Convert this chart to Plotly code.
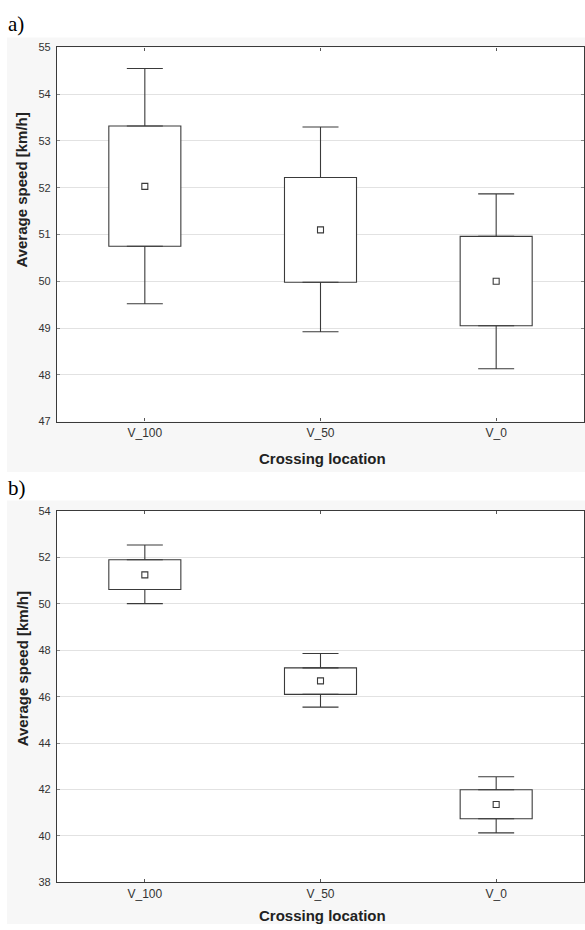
import plotly.graph_objects as go

# ---------------- data ----------------
categories = ["V_100", "V_50", "V_0"]

# panel a
a_mean = [52.03, 51.10, 50.00]
a_box_low = [50.75, 49.98, 49.05]
a_box_high = [53.32, 52.22, 50.96]
a_whisker_low = [49.52, 48.92, 48.13]
a_whisker_high = [54.55, 53.30, 51.87]
a_yticks = [47, 48, 49, 50, 51, 52, 53, 54, 55]

# panel b
b_mean = [51.25, 46.68, 41.35]
b_box_low = [50.62, 46.10, 40.74]
b_box_high = [51.90, 47.24, 41.99]
b_whisker_low = [50.01, 45.55, 40.13]
b_whisker_high = [52.54, 47.86, 42.55]
b_yticks = [38, 40, 42, 44, 46, 48, 50, 52, 54]

W, H = 585, 930
LINE = "#3a3a3a"
FONT = "Liberation Sans"


def px_y(y):
    return 1 - y / H


def px_x(x):
    return x / W


fig = go.Figure()

panels = [
    ("x", "y", a_mean, a_box_low, a_box_high, a_whisker_low, a_whisker_high),
    ("x2", "y2", b_mean, b_box_low, b_box_high, b_whisker_low, b_whisker_high),
]
for xa, ya, mean, lo, hi, wlo, whi in panels:
    # box (mean +/- SE)
    fig.add_trace(go.Bar(
        x=categories, y=[h - l for h, l in zip(hi, lo)], base=lo, width=0.41,
        marker=dict(color="white", line=dict(color=LINE, width=1.1)),
        showlegend=False, xaxis=xa, yaxis=ya, hoverinfo="skip",
    ))
    # upper whisker (from box top)
    fig.add_trace(go.Scatter(
        x=categories, y=hi, mode="markers", marker=dict(size=0.1, opacity=0),
        error_y=dict(type="data", symmetric=False,
                     array=[w - h for w, h in zip(whi, hi)],
                     arrayminus=[0] * len(hi),
                     color=LINE, thickness=1.1, width=18),
        showlegend=False, xaxis=xa, yaxis=ya, hoverinfo="skip",
    ))
    # lower whisker (from box bottom)
    fig.add_trace(go.Scatter(
        x=categories, y=lo, mode="markers", marker=dict(size=0.1, opacity=0),
        error_y=dict(type="data", symmetric=False,
                     array=[0] * len(lo),
                     arrayminus=[l - w for l, w in zip(lo, wlo)],
                     color=LINE, thickness=1.1, width=18),
        showlegend=False, xaxis=xa, yaxis=ya, hoverinfo="skip",
    ))
    # mean marker
    fig.add_trace(go.Scatter(
        x=categories, y=mean, mode="markers",
        marker=dict(symbol="square-open", size=6, color=LINE, line=dict(width=1.1, color=LINE)),
        showlegend=False, xaxis=xa, yaxis=ya, hoverinfo="skip",
    ))

x_dom = [px_x(57), px_x(584)]
a_dom = [px_y(421), px_y(42)]
b_dom = [px_y(887.7), px_y(511.7)]

common_x = dict(
    type="category", categoryorder="array", categoryarray=categories,
    range=[-0.5, 2.5], showline=True, linecolor=LINE, linewidth=1.2, mirror="ticks",
    ticks="inside", ticklen=3, tickcolor="#555", showgrid=False, zeroline=False,
    tickfont=dict(family=FONT, size=12, color="#333"), domain=x_dom,
)
common_y = dict(
    showline=True, linecolor=LINE, linewidth=1.2, mirror="ticks",
    ticks="inside", ticklen=3, tickcolor="#888", showgrid=True,
    gridcolor="#e2e2e2", gridwidth=1, zeroline=False,
    tickfont=dict(family=FONT, size=11, color="#333"), ticklabelstandoff=3,
)

fig.update_layout(
    width=W, height=H, margin=dict(l=0, r=0, t=0, b=0),
    paper_bgcolor="white", plot_bgcolor="white", barmode="overlay",
    xaxis=dict(**common_x, anchor="y"),
    yaxis=dict(**common_y, domain=a_dom, range=[47, 55], tickvals=a_yticks, anchor="x"),
    xaxis2=dict(**common_x, anchor="y2"),
    yaxis2=dict(**common_y, domain=b_dom, range=[38, 54], tickvals=b_yticks, anchor="x2"),
    shapes=[
        dict(type="rect", xref="paper", yref="paper", x0=px_x(7), x1=1,
             y0=px_y(472), y1=px_y(32), fillcolor="#f7f7f7", line=dict(width=0), layer="below"),
        dict(type="rect", xref="paper", yref="paper", x0=px_x(7), x1=1,
             y0=0, y1=px_y(501), fillcolor="#f7f7f7", line=dict(width=0), layer="below"),
        dict(type="rect", xref="paper", yref="paper", x0=x_dom[0], x1=x_dom[1],
             y0=a_dom[0], y1=a_dom[1], fillcolor="white", line=dict(width=0), layer="below"),
        dict(type="rect", xref="paper", yref="paper", x0=x_dom[0], x1=x_dom[1],
             y0=b_dom[0], y1=b_dom[1], fillcolor="white", line=dict(width=0), layer="below"),
    ],
)

ann = []
ann.append(dict(text="a)", x=px_x(6), y=px_y(18), xanchor="left", yanchor="middle",
                font=dict(family="Liberation Serif", size=21, color="black")))
ann.append(dict(text="b)", x=px_x(6), y=px_y(488), xanchor="left", yanchor="middle",
                font=dict(family="Liberation Serif", size=21, color="black")))
for yc in (187, 672):
    ann.append(dict(text="<b>Average speed [km/h]</b>", x=px_x(22), y=px_y(yc), textangle=-90,
                    xanchor="center", yanchor="middle",
                    font=dict(family=FONT, size=15, color="#222")))
for yc in (458, 921):
    ann.append(dict(text="<b>Crossing location</b>", x=px_x(322), y=px_y(yc),
                    xanchor="center", yanchor="middle",
                    font=dict(family=FONT, size=15, color="#222")))
for a in ann:
    a.update(xref="paper", yref="paper", showarrow=False)
fig.update_layout(annotations=ann)

fig.write_html("out.html")
